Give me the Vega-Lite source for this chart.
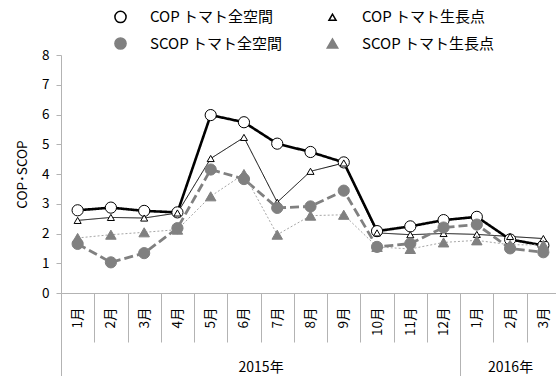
{
  "$schema": "https://vega.github.io/schema/vega-lite/v6.json",
  "width": 495,
  "height": 238,
  "autosize": {"type": "none"},
  "padding": {"left": 61, "top": 55, "right": 0, "bottom": 83},
  "config": {
    "font": "Noto Sans CJK JP",
    "view": {"stroke": null},
    "axis": {"labelColor": "black", "titleColor": "black", "grid": false},
    "axisY": {
      "labelFontSize": 13.5,
      "labelPadding": 7,
      "labelOverlap": false,
      "labelFlush": false,
      "ticks": true,
      "tickSize": 5,
      "tickColor": "#b3b3b3",
      "domainColor": "#b3b3b3",
      "titleFontSize": 13.5,
      "titleFontWeight": "normal",
      "titlePadding": 12
    },
    "legend": {
      "orient": "none",
      "legendX": 52,
      "legendY": -46,
      "direction": "horizontal",
      "columns": 2,
      "padding": 0,
      "labelOffset": 22,
      "columnPadding": 41,
      "rowPadding": 8,
      "labelFontSize": 15,
      "labelColor": "black",
      "labelLimit": 300
    }
  },
  "data": {
    "values": [
      {"series": "COP トマト全空間", "idx": 1, "value": 2.78},
      {"series": "COP トマト全空間", "idx": 2, "value": 2.87},
      {"series": "COP トマト全空間", "idx": 3, "value": 2.76},
      {"series": "COP トマト全空間", "idx": 4, "value": 2.71},
      {"series": "COP トマト全空間", "idx": 5, "value": 5.98},
      {"series": "COP トマト全空間", "idx": 6, "value": 5.74},
      {"series": "COP トマト全空間", "idx": 7, "value": 5.02},
      {"series": "COP トマト全空間", "idx": 8, "value": 4.74},
      {"series": "COP トマト全空間", "idx": 9, "value": 4.39},
      {"series": "COP トマト全空間", "idx": 10, "value": 2.08},
      {"series": "COP トマト全空間", "idx": 11, "value": 2.24},
      {"series": "COP トマト全空間", "idx": 12, "value": 2.45},
      {"series": "COP トマト全空間", "idx": 13, "value": 2.56},
      {"series": "COP トマト全空間", "idx": 14, "value": 1.8},
      {"series": "COP トマト全空間", "idx": 15, "value": 1.6},
      {"series": "COP トマト生長点", "idx": 1, "value": 2.44},
      {"series": "COP トマト生長点", "idx": 2, "value": 2.54},
      {"series": "COP トマト生長点", "idx": 3, "value": 2.52},
      {"series": "COP トマト生長点", "idx": 4, "value": 2.69},
      {"series": "COP トマト生長点", "idx": 5, "value": 4.52},
      {"series": "COP トマト生長点", "idx": 6, "value": 5.23},
      {"series": "COP トマト生長点", "idx": 7, "value": 3.05},
      {"series": "COP トマト生長点", "idx": 8, "value": 4.09},
      {"series": "COP トマト生長点", "idx": 9, "value": 4.37},
      {"series": "COP トマト生長点", "idx": 10, "value": 2.02},
      {"series": "COP トマト生長点", "idx": 11, "value": 1.96},
      {"series": "COP トマト生長点", "idx": 12, "value": 2.0},
      {"series": "COP トマト生長点", "idx": 13, "value": 1.97},
      {"series": "COP トマト生長点", "idx": 14, "value": 1.9},
      {"series": "COP トマト生長点", "idx": 15, "value": 1.83},
      {"series": "SCOP トマト全空間", "idx": 1, "value": 1.65},
      {"series": "SCOP トマト全空間", "idx": 2, "value": 1.03},
      {"series": "SCOP トマト全空間", "idx": 3, "value": 1.34},
      {"series": "SCOP トマト全空間", "idx": 4, "value": 2.18},
      {"series": "SCOP トマト全空間", "idx": 5, "value": 4.15},
      {"series": "SCOP トマト全空間", "idx": 6, "value": 3.83},
      {"series": "SCOP トマト全空間", "idx": 7, "value": 2.86},
      {"series": "SCOP トマト全空間", "idx": 8, "value": 2.91},
      {"series": "SCOP トマト全空間", "idx": 9, "value": 3.44},
      {"series": "SCOP トマト全空間", "idx": 10, "value": 1.55},
      {"series": "SCOP トマト全空間", "idx": 11, "value": 1.66},
      {"series": "SCOP トマト全空間", "idx": 12, "value": 2.2},
      {"series": "SCOP トマト全空間", "idx": 13, "value": 2.3},
      {"series": "SCOP トマト全空間", "idx": 14, "value": 1.5},
      {"series": "SCOP トマト全空間", "idx": 15, "value": 1.37},
      {"series": "SCOP トマト生長点", "idx": 1, "value": 1.85},
      {"series": "SCOP トマト生長点", "idx": 2, "value": 1.96},
      {"series": "SCOP トマト生長点", "idx": 3, "value": 2.04},
      {"series": "SCOP トマト生長点", "idx": 4, "value": 2.13},
      {"series": "SCOP トマト生長点", "idx": 5, "value": 3.25},
      {"series": "SCOP トマト生長点", "idx": 6, "value": 4.0},
      {"series": "SCOP トマト生長点", "idx": 7, "value": 1.96},
      {"series": "SCOP トマト生長点", "idx": 8, "value": 2.6},
      {"series": "SCOP トマト生長点", "idx": 9, "value": 2.63},
      {"series": "SCOP トマト生長点", "idx": 10, "value": 1.55},
      {"series": "SCOP トマト生長点", "idx": 11, "value": 1.48},
      {"series": "SCOP トマト生長点", "idx": 12, "value": 1.7},
      {"series": "SCOP トマト生長点", "idx": 13, "value": 1.77},
      {"series": "SCOP トマト生長点", "idx": 14, "value": 1.62},
      {"series": "SCOP トマト生長点", "idx": 15, "value": 1.62}
    ]
  },
  "layer": [
    {
      "mark": {"type": "line"},
      "encoding": {
        "x": {
          "field": "idx",
          "type": "quantitative",
          "scale": {"domain": [0.5, 15.38], "nice": false, "zero": false},
          "axis": {
            "orient": "bottom",
            "title": null,
            "values": [1, 2, 3, 4, 5, 6, 7, 8, 9, 10, 11, 12, 13, 14, 15],
            "labelExpr": "(datum.value > 12 ? datum.value - 12 : datum.value) + '月'",
            "labelAngle": 270,
            "labelFontSize": 13.5,
            "labelPadding": 14,
            "labelFlush": false,
            "labelOverlap": false,
            "labelBound": false,
            "ticks": false,
            "tickSize": 0,
            "domainColor": "#b3b3b3",
            "domainWidth": 1
          }
        },
        "y": {
          "field": "value",
          "type": "quantitative",
          "scale": {"domain": [0, 8], "nice": false},
          "axis": {"values": [0, 1, 2, 3, 4, 5, 6, 7, 8], "title": "COP･SCOP"}
        },
        "color": {
          "field": "series",
          "type": "nominal",
          "scale": {
            "domain": ["COP トマト全空間", "COP トマト生長点", "SCOP トマト全空間", "SCOP トマト生長点"],
            "range": ["#000000", "#000000", "#808080", "#a6a6a6"]
          },
          "legend": null
        },
        "strokeDash": {
          "field": "series",
          "type": "nominal",
          "scale": {
            "domain": ["COP トマト全空間", "COP トマト生長点", "SCOP トマト全空間", "SCOP トマト生長点"],
            "range": [[1, 0], [1, 0], [9, 4], [2, 2]]
          },
          "legend": null
        },
        "strokeWidth": {
          "field": "series",
          "type": "nominal",
          "scale": {
            "type": "ordinal",
            "domain": ["COP トマト全空間", "COP トマト生長点", "SCOP トマト全空間", "SCOP トマト生長点"],
            "range": [2.6, 1, 2.8, 1]
          },
          "legend": null
        }
      }
    },
    {
      "mark": {"type": "point", "filled": true, "opacity": 1, "strokeWidth": 1},
      "encoding": {
        "x": {
          "field": "idx",
          "type": "quantitative",
          "scale": {"domain": [0.5, 15.38], "nice": false, "zero": false},
          "axis": null
        },
        "y": {
          "field": "value",
          "type": "quantitative",
          "axis": {"values": [0, 1, 2, 3, 4, 5, 6, 7, 8], "title": "COP･SCOP"}
        },
        "shape": {
          "field": "series",
          "type": "nominal",
          "scale": {
            "domain": ["COP トマト全空間", "COP トマト生長点", "SCOP トマト全空間", "SCOP トマト生長点"],
            "range": ["circle", "triangle-up", "circle", "triangle-up"]
          },
          "legend": {"title": null}
        },
        "fill": {
          "field": "series",
          "type": "nominal",
          "scale": {
            "domain": ["COP トマト全空間", "COP トマト生長点", "SCOP トマト全空間", "SCOP トマト生長点"],
            "range": ["#ffffff", "#ffffff", "#808080", "#808080"]
          },
          "legend": {"title": null}
        },
        "stroke": {
          "field": "series",
          "type": "nominal",
          "scale": {
            "domain": ["COP トマト全空間", "COP トマト生長点", "SCOP トマト全空間", "SCOP トマト生長点"],
            "range": ["#000000", "#000000", "#808080", "#808080"]
          },
          "legend": {"title": null}
        },
        "size": {
          "field": "series",
          "type": "nominal",
          "scale": {
            "type": "ordinal",
            "domain": ["COP トマト全空間", "COP トマト生長点", "SCOP トマト全空間", "SCOP トマト生長点"],
            "range": [125, 50, 125, 110]
          },
          "legend": {"title": null}
        }
      }
    },
    {
      "mark": {"type": "point", "opacity": 0},
      "encoding": {
        "x": {
          "field": "idx",
          "type": "quantitative",
          "scale": {"domain": [0.5, 15.38], "nice": false, "zero": false},
          "axis": {
            "orient": "bottom",
            "title": null,
            "values": [1.5, 2.5, 3.5, 4.5, 5.5, 6.5, 7.5, 8.5, 9.5, 10.5, 11.5, 13.5, 14.5],
            "labels": false,
            "domain": false,
            "ticks": true,
            "tickSize": 49,
            "tickColor": "#b3b3b3",
            "tickWidth": 1
          }
        }
      }
    },
    {
      "mark": {"type": "point", "opacity": 0},
      "encoding": {
        "x": {
          "field": "idx",
          "type": "quantitative",
          "scale": {"domain": [0.5, 15.38], "nice": false, "zero": false},
          "axis": {
            "orient": "bottom",
            "title": null,
            "values": [0.5, 12.5],
            "labels": false,
            "domain": false,
            "ticks": true,
            "tickSize": 83,
            "tickColor": "#b3b3b3",
            "tickWidth": 1
          }
        }
      }
    },
    {
      "mark": {"type": "point", "opacity": 0},
      "encoding": {
        "x": {
          "field": "idx",
          "type": "quantitative",
          "scale": {"domain": [0.5, 15.38], "nice": false, "zero": false},
          "axis": {
            "orient": "bottom",
            "title": null,
            "values": [6.5, 14],
            "labelExpr": "datum.value < 10 ? '2015年' : '2016年'",
            "labelFontSize": 14,
            "labelPadding": 67,
            "labelFlush": false,
            "labelOverlap": false,
            "labelAngle": 0,
            "labelBound": false,
            "domain": false,
            "ticks": false,
            "tickSize": 0
          }
        }
      }
    }
  ],
  "resolve": {
    "scale": {"x": "independent"},
    "axis": {"x": "independent"},
    "legend": {"color": "independent", "strokeDash": "independent", "strokeWidth": "independent"}
  }
}
